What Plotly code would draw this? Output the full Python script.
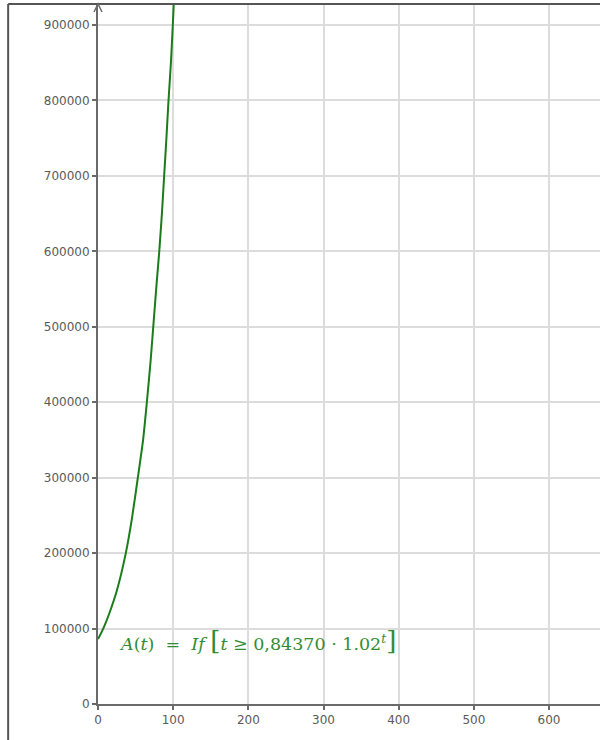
import plotly.graph_objects as go

# Values
t_vals = [0, 7, 15, 25, 37, 45, 53, 60, 65, 70, 73.5, 77.8, 81.5, 85, 88, 91, 93.8, 97, 99.5, 100.8]
a_vals = [86000, 100000, 120000, 150000, 200000, 245000, 300000, 350000, 400000, 455000,
          500000, 555000, 600000, 650000, 700000, 750000, 800000, 850000, 900000, 928000]

x_ticks = [0, 100, 200, 300, 400, 500, 600]
y_ticks = [0, 100000, 200000, 300000, 400000, 500000, 600000, 700000, 800000, 900000]
x_range = [0, 667.8]
y_range = [0, 927900]

label_html = ("<i>A</i>(<i>t</i>)&nbsp;&nbsp;=&nbsp;&nbsp;<i>If</i>&nbsp;"
              "<span style='font-size:26px'>[</span><i>t</i> ≥ 0,84370 · 1.02<sup><i>t</i></sup>"
              "<span style='font-size:26px'>]</span>")

fig = go.Figure()
fig.add_trace(go.Scatter(
    x=t_vals, y=a_vals, mode="lines",
    line=dict(color="rgb(26,124,26)", width=2, shape="spline", smoothing=0.6),
    hoverinfo="skip", showlegend=False,
))

axis_common = dict(
    showgrid=True, gridcolor="#dcdcdc", gridwidth=1.5,
    showline=True, linecolor="#6a6a6a", linewidth=2,
    ticks="outside", ticklen=4, tickcolor="#6a6a6a", tickwidth=1.5,
    tickfont=dict(family="DejaVu Sans", size=12, color="#5a5a5a"),
    zeroline=False, fixedrange=True,
)

fig.update_layout(
    width=600, height=740,
    margin=dict(l=98, r=0, t=4, b=36),
    paper_bgcolor="white", plot_bgcolor="white",
    xaxis=dict(range=x_range, tickvals=x_ticks, ticktext=[str(v) for v in x_ticks],
               **axis_common),
    yaxis=dict(range=y_range, tickvals=y_ticks, ticktext=[str(v) for v in y_ticks],
               **axis_common),
    showlegend=False,
)

# Outer frame (left and top borders of the screenshot)
fig.add_shape(type="line", xref="paper", yref="paper", x0=-0.179, x1=-0.179, y0=1.0, y1=-0.06,
              line=dict(color="#555555", width=2))
fig.add_shape(type="line", xref="paper", yref="paper", x0=-0.179, x1=1.0, y0=1.0, y1=1.0,
              line=dict(color="#555555", width=2))

# Arrowhead at top of y-axis
dx = 4 / 502
dy = 8 / 700
fig.add_shape(type="path", xref="paper", yref="paper",
              path=f"M {-dx} {1 - dy} L 0 1 L {dx} {1 - dy}",
              line=dict(color="#6a6a6a", width=1.5))

# Function label
fig.add_annotation(x=25, y=84000, xref="x", yref="y", xanchor="left", yanchor="middle",
                   text=label_html, showarrow=False,
                   font=dict(family="DejaVu Serif", size=17.5, color="rgb(50,140,50)"))

fig.write_html("out.html", config={"displayModeBar": False},
               post_script="document.body.style.margin='0px';")
